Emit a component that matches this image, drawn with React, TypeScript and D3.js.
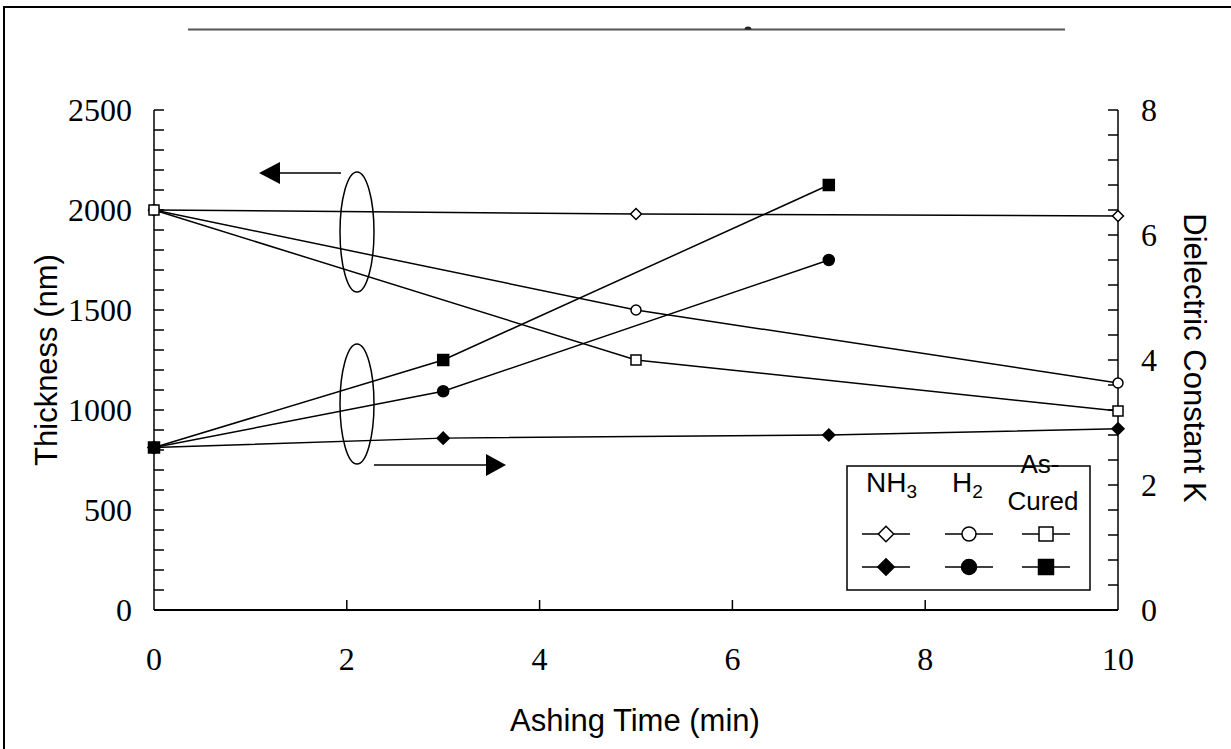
import React from "react";
import * as d3 from "d3";

// Ashing time (min) for thickness measurements (left axis, open markers)
const thkTime = [0, 5, 10];
const thkNH3 = [2000, 1980, 1970];
const thkH2 = [2000, 1500, 1135];
const thkCured = [2000, 1250, 995];

// Ashing time (min) for dielectric constant (right axis, filled markers)
const kTimeNH3 = [0, 3, 7, 10];
const kNH3 = [2.6, 2.75, 2.8, 2.9];
const kTime = [0, 3, 7];
const kH2 = [2.6, 3.5, 5.6];
const kCured = [2.6, 4.0, 6.8];

const xTicks = [0, 2, 4, 6, 8, 10];
const leftTicks = [0, 500, 1000, 1500, 2000, 2500];
const rightTicks = [0, 2, 4, 6, 8];

const W = 1231;
const H = 749;
const PL = 154;
const PR = 1118;
const PT = 110;
const PB = 610;

const serif = "'Liberation Serif', 'Times New Roman', serif";
const sans = "'Liberation Sans', Arial, sans-serif";

type Shape = "diamond" | "circle" | "square";

function Marker({ shape, x, y, size, filled }: { shape: Shape; x: number; y: number; size: number; filled: boolean }) {
  const fill = filled ? "#000" : "#fff";
  const h = size / 2;
  if (shape === "circle") {
    return <circle cx={x} cy={y} r={h} fill={fill} stroke="#000" strokeWidth={1.5} />;
  }
  if (shape === "square") {
    return <rect x={x - h} y={y - h} width={size} height={size} fill={fill} stroke="#000" strokeWidth={1.5} />;
  }
  const d = `M${x},${y - h * 1.1}L${x + h * 1.1},${y}L${x},${y + h * 1.1}L${x - h * 1.1},${y}Z`;
  return <path d={d} fill={fill} stroke="#000" strokeWidth={1.5} />;
}

export default function App() {
  const x = d3.scaleLinear().domain([0, 10]).range([PL, PR]);
  const yL = d3.scaleLinear().domain([0, 2500]).range([PB, PT]);
  const yR = d3.scaleLinear().domain([0, 8]).range([PB, PT]);

  const line = d3
    .line<[number, number]>()
    .x((d) => d[0])
    .y((d) => d[1]);

  const thkSeries: { v: number[]; shape: Shape }[] = [
    { v: thkNH3, shape: "diamond" },
    { v: thkH2, shape: "circle" },
    { v: thkCured, shape: "square" },
  ];
  const kSeries: { t: number[]; v: number[]; shape: Shape }[] = [
    { t: kTimeNH3, v: kNH3, shape: "diamond" },
    { t: kTime, v: kH2, shape: "circle" },
    { t: kTime, v: kCured, shape: "square" },
  ];

  const leftMinor = d3.range(100, 2501, 100);
  const rightMinor = d3.range(0.4, 8.01, 0.4);

  const legendCols: { cx: number; shape: Shape }[] = [
    { cx: 886, shape: "diamond" },
    { cx: 969, shape: "circle" },
    { cx: 1046, shape: "square" },
  ];

  return (
    <svg
      width={W}
      height={H}
      style={{ position: "absolute", left: 0, top: 0, background: "#fff" }}
    >
      <rect x={0} y={0} width={W} height={H} fill="#fff" />
      {/* outer frame */}
      <rect x={4} y={7} width={W + 20} height={H + 20} fill="none" stroke="#000" strokeWidth={2} />
      {/* rule across the top */}
      <line x1={188} x2={1065} y1={29.5} y2={29.5} stroke="#555" strokeWidth={2} />
      <path d="M744.5,29.5 A3.5,3 0 0 1 751.5,29.5 Z" fill="#222" />

      {/* thickness lines */}
      {thkSeries.map((s, i) => (
        <path
          key={`tl${i}`}
          d={line(s.v.map((v, j) => [x(thkTime[j]), yL(v)]) as [number, number][]) || ""}
          fill="none"
          stroke="#000"
          strokeWidth={1.5}
        />
      ))}
      {/* dielectric constant lines */}
      {kSeries.map((s, i) => (
        <path
          key={`kl${i}`}
          d={line(s.v.map((v, j) => [x(s.t[j]), yR(v)]) as [number, number][]) || ""}
          fill="none"
          stroke="#000"
          strokeWidth={1.5}
        />
      ))}

      {/* axes */}
      <line x1={PL} x2={PL} y1={PT} y2={PB} stroke="#000" strokeWidth={1.5} />
      <line x1={PR} x2={PR} y1={PT} y2={PB} stroke="#000" strokeWidth={1.5} />
      <line x1={PL} x2={PR} y1={PB} y2={PB} stroke="#000" strokeWidth={2} />

      {leftMinor.map((v) => (
        <line key={`lm${v}`} x1={PL} x2={PL + 10} y1={yL(v)} y2={yL(v)} stroke="#000" strokeWidth={1.5} />
      ))}
      {rightMinor.map((v) => (
        <line key={`rm${v}`} x1={PR - 10} x2={PR} y1={yR(v)} y2={yR(v)} stroke="#000" strokeWidth={1.5} />
      ))}
      {xTicks.slice(1, -1).map((v) => (
        <line key={`xt${v}`} x1={x(v)} x2={x(v)} y1={PB} y2={PB - 10} stroke="#000" strokeWidth={1.5} />
      ))}

      {leftTicks.map((v) => (
        <text key={`lt${v}`} x={132} y={yL(v) + 11} textAnchor="end" fontFamily={serif} fontSize={32}>
          {v}
        </text>
      ))}
      {rightTicks.map((v) => (
        <text key={`rt${v}`} x={1141} y={yR(v) + 11} textAnchor="start" fontFamily={serif} fontSize={32}>
          {v}
        </text>
      ))}
      {xTicks.map((v) => (
        <text key={`xl${v}`} x={x(v)} y={670} textAnchor="middle" fontFamily={serif} fontSize={32}>
          {v}
        </text>
      ))}

      {/* axis titles */}
      <text x={635} y={731} textAnchor="middle" fontFamily={sans} fontSize={31}>
        Ashing Time (min)
      </text>
      <text
        transform="translate(57,360) rotate(-90)"
        textAnchor="middle"
        fontFamily={sans}
        fontSize={31}
      >
        Thickness (nm)
      </text>
      <text
        transform="translate(1184,358) rotate(90)"
        textAnchor="middle"
        fontFamily={sans}
        fontSize={31}
      >
        Dielectric Constant K
      </text>

      {/* grouping ellipses and direction arrows */}
      <ellipse cx={357} cy={232} rx={17} ry={60} fill="none" stroke="#000" strokeWidth={1.5} />
      <ellipse cx={357} cy={404} rx={17} ry={60} fill="none" stroke="#000" strokeWidth={1.5} />
      <line x1={341} x2={278} y1={173} y2={173} stroke="#000" strokeWidth={1.5} />
      <path d="M259,173 L280,162 L280,184 Z" fill="#000" />
      <line x1={374} x2={488} y1={465} y2={465} stroke="#000" strokeWidth={1.5} />
      <path d="M506,465 L486,454 L486,476 Z" fill="#000" />

      {/* markers */}
      {thkSeries.map((s, i) =>
        s.v.map((v, j) => (
          <Marker key={`tm${i}-${j}`} shape={s.shape} x={x(thkTime[j])} y={yL(v)} size={10} filled={false} />
        ))
      )}
      {kSeries.map((s, i) =>
        s.v.map((v, j) => (
          <Marker key={`km${i}-${j}`} shape={s.shape} x={x(s.t[j])} y={yR(v)} size={11} filled={true} />
        ))
      )}

      {/* legend */}
      <rect x={847} y={466} width={243} height={124} fill="#fff" stroke="#000" strokeWidth={1.5} />
      <text x={866} y={492} fontFamily={sans} fontSize={28}>
        NH<tspan fontSize={19} dy={6}>3</tspan>
      </text>
      <text x={952} y={492} fontFamily={sans} fontSize={28}>
        H<tspan fontSize={19} dy={6}>2</tspan>
      </text>
      <text x={1040} y={473} textAnchor="middle" fontFamily={sans} fontSize={26}>
        As-
      </text>
      <text x={1043} y={510} textAnchor="middle" fontFamily={sans} fontSize={26}>
        Cured
      </text>
      {legendCols.map((c, i) => (
        <g key={`lg${i}`}>
          <line x1={c.cx - 24} x2={c.cx + 24} y1={534} y2={534} stroke="#000" strokeWidth={1.5} />
          <Marker shape={c.shape} x={c.cx} y={534} size={14} filled={false} />
          <line x1={c.cx - 24} x2={c.cx + 24} y1={567} y2={567} stroke="#000" strokeWidth={1.5} />
          <Marker shape={c.shape} x={c.cx} y={567} size={15} filled={true} />
        </g>
      ))}
    </svg>
  );
}
